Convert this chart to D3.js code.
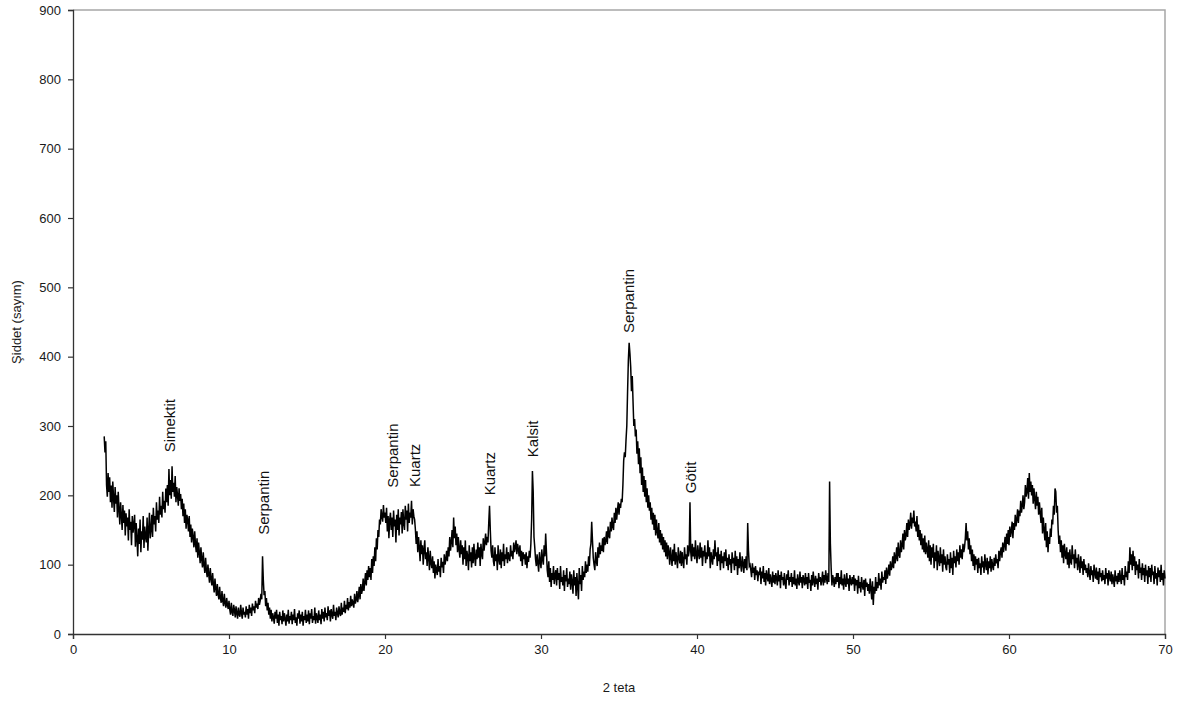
<!DOCTYPE html>
<html>
<head>
<meta charset="utf-8">
<script src="https://cdn.jsdelivr.net/npm/d3@7"></script>
<style>
  html, body { margin: 0; padding: 0; background: #fff; }
  svg { display: block; font-family: "Liberation Sans", Arial, sans-serif; }
</style>
</head>
<body>
<svg id="chart" width="1183" height="702"></svg>
<script>
// XRD scan: one row of intensity counts per degree of 2θ, starting at 2°,
// samples spread evenly across each degree; the last row is the 70° end point.
const firstDegree = 2;
const countsByDegree = [
  /* 2 */ [285, 262, 278, 215, 198, 232, 205, 226, 190, 214, 182, 220, 196, 176, 212, 188, 200, 168, 205, 180],
  /* 3 */ [158, 190, 172, 150, 186, 160, 178, 142, 174, 155, 168, 135, 180, 150, 162, 128, 170, 146, 158, 172],
  /* 4 */ [126, 160, 138, 112, 152, 130, 165, 118, 148, 136, 170, 124, 155, 140, 132, 168, 120, 150, 175, 138],
  /* 5 */ [150, 172, 140, 182, 158, 170, 148, 190, 165, 178, 160, 198, 172, 185, 168, 205, 180, 192, 175, 210],
  /* 6 */ [190, 215, 185, 238, 200, 222, 195, 242, 205, 218, 198, 228, 190, 212, 200, 185, 210, 192, 202, 180],
  /* 7 */ [195, 170, 188, 160, 180, 152, 172, 165, 148, 170, 140, 158, 132, 152, 140, 125, 148, 130, 118, 138],
  /* 8 */ [110, 132, 118, 102, 125, 108, 96, 118, 100, 88, 110, 92, 82, 100, 86, 74, 95, 80, 70, 88],
  /* 9 */ [72, 60, 80, 66, 55, 72, 58, 50, 68, 52, 45, 62, 48, 40, 58, 45, 38, 52, 42, 36],
  /* 10 */ [48, 35, 28, 45, 32, 26, 42, 34, 24, 40, 30, 22, 38, 28, 25, 42, 30, 22, 38, 28],
  /* 11 */ [32, 24, 40, 28, 36, 22, 42, 30, 38, 26, 44, 34, 40, 30, 48, 38, 44, 36, 52, 42],
  /* 12 */ [48, 58, 50, 112, 78, 56, 62, 40, 52, 34, 45, 28, 38, 22, 35, 18, 30, 24, 15, 32],
  /* 13 */ [22, 35, 16, 28, 12, 32, 20, 26, 14, 34, 18, 30, 22, 12, 28, 18, 35, 15, 26, 20],
  /* 14 */ [32, 14, 28, 20, 36, 16, 24, 12, 30, 22, 34, 15, 28, 18, 32, 12, 26, 20, 35, 16],
  /* 15 */ [28, 18, 34, 14, 30, 22, 36, 16, 26, 20, 38, 15, 30, 24, 16, 34, 20, 28, 14, 36],
  /* 16 */ [22, 32, 18, 38, 24, 30, 20, 40, 26, 34, 18, 36, 28, 22, 42, 26, 32, 20, 38, 30],
  /* 17 */ [24, 40, 30, 26, 45, 28, 38, 32, 48, 30, 42, 36, 52, 34, 46, 38, 55, 40, 50, 44],
  /* 18 */ [38, 58, 44, 50, 62, 46, 55, 68, 50, 72, 58, 64, 80, 62, 75, 88, 70, 92, 78, 98],
  /* 19 */ [82, 95, 78, 108, 88, 112, 98, 125, 105, 138, 122, 150, 140, 165, 158, 180, 170, 162, 186, 168],
  /* 20 */ [175, 160, 182, 148, 170, 138, 165, 175, 150, 168, 140, 178, 155, 165, 132, 172, 150, 180, 142, 168],
  /* 21 */ [158, 176, 145, 180, 160, 150, 185, 165, 178, 148, 188, 160, 175, 168, 192, 158, 180, 170, 165, 150],
  /* 22 */ [130, 148, 118, 140, 125, 105, 135, 115, 128, 100, 122, 135, 108, 118, 98, 125, 110, 92, 120, 102],
  /* 23 */ [95, 112, 88, 105, 80, 100, 92, 85, 108, 90, 98, 82, 110, 96, 104, 88, 115, 100, 108, 120],
  /* 24 */ [105, 125, 112, 140, 120, 132, 150, 125, 168, 138, 155, 128, 145, 118, 140, 122, 110, 135, 115, 128],
  /* 25 */ [100, 125, 108, 135, 98, 120, 112, 92, 128, 105, 118, 96, 125, 102, 130, 110, 98, 122, 108, 132],
  /* 26 */ [110, 125, 98, 130, 115, 108, 138, 120, 132, 145, 128, 140, 132, 160, 185, 150, 120, 110, 128, 105],
  /* 27 */ [98, 125, 105, 115, 92, 128, 108, 100, 122, 95, 118, 105, 130, 98, 115, 108, 125, 102, 118, 110],
  /* 28 */ [105, 128, 112, 120, 108, 132, 118, 125, 135, 115, 130, 122, 112, 128, 105, 120, 98, 118, 108, 115],
  /* 29 */ [100, 118, 95, 112, 104, 120, 110, 130, 165, 235, 205, 140, 125, 108, 98, 115, 102, 90, 118, 105],
  /* 30 */ [95, 122, 108, 100, 128, 112, 145, 118, 92, 82, 105, 75, 95, 68, 88, 78, 98, 72, 85, 92],
  /* 31 */ [70, 95, 78, 88, 65, 98, 75, 82, 70, 92, 62, 85, 76, 95, 68, 80, 72, 90, 64, 86],
  /* 32 */ [75, 58, 92, 70, 82, 55, 88, 68, 50, 95, 72, 85, 62, 98, 78, 90, 82, 105, 88, 100],
  /* 33 */ [90, 112, 98, 122, 130, 162, 135, 110, 100, 92, 118, 105, 98, 125, 110, 132, 115, 128, 120, 138],
  /* 34 */ [118, 140, 128, 135, 148, 130, 155, 142, 138, 162, 148, 168, 155, 150, 175, 160, 182, 165, 178, 190],
  /* 35 */ [172, 188, 182, 195, 190, 215, 250, 262, 255, 280, 300, 350, 395, 420, 405, 385, 350, 372, 335, 300],
  /* 36 */ [310, 285, 295, 260, 278, 245, 268, 232, 255, 215, 240, 205, 228, 198, 222, 190, 210, 182, 200, 178],
  /* 37 */ [190, 165, 182, 158, 175, 150, 172, 142, 165, 148, 138, 160, 132, 150, 128, 145, 122, 140, 118, 135],
  /* 38 */ [112, 132, 108, 128, 118, 100, 125, 110, 98, 122, 105, 130, 100, 118, 108, 95, 125, 110, 102, 120],
  /* 39 */ [98, 118, 105, 95, 125, 108, 115, 100, 128, 112, 120, 190, 118, 105, 130, 112, 125, 108, 135, 115],
  /* 40 */ [102, 128, 115, 108, 132, 110, 125, 98, 120, 112, 128, 102, 118, 108, 135, 112, 125, 95, 118, 108],
  /* 41 */ [100, 122, 108, 135, 112, 118, 98, 125, 105, 115, 92, 120, 102, 112, 95, 118, 105, 122, 98, 110],
  /* 42 */ [92, 115, 100, 108, 88, 118, 102, 110, 92, 120, 98, 112, 85, 108, 95, 118, 100, 90, 112, 102],
  /* 43 */ [88, 108, 95, 112, 92, 160, 120, 98, 100, 92, 82, 102, 88, 96, 78, 98, 85, 92, 76, 90],
  /* 44 */ [85, 96, 72, 90, 80, 98, 75, 88, 70, 92, 82, 76, 95, 72, 86, 78, 68, 90, 74, 85],
  /* 45 */ [72, 88, 80, 70, 92, 76, 85, 66, 90, 78, 82, 70, 88, 74, 65, 86, 78, 92, 70, 82],
  /* 46 */ [75, 88, 68, 82, 72, 92, 70, 80, 65, 86, 76, 70, 90, 74, 82, 66, 85, 78, 70, 88],
  /* 47 */ [72, 82, 65, 88, 74, 78, 62, 85, 70, 90, 76, 68, 84, 72, 80, 64, 88, 75, 82, 70],
  /* 48 */ [78, 90, 70, 85, 74, 92, 80, 72, 88, 75, 220, 130, 95, 70, 85, 78, 68, 82, 72, 88],
  /* 49 */ [75, 88, 66, 82, 72, 92, 70, 80, 64, 86, 74, 68, 88, 72, 80, 62, 85, 76, 70, 82],
  /* 50 */ [72, 85, 62, 80, 70, 78, 58, 84, 66, 75, 60, 82, 70, 64, 78, 55, 80, 68, 74, 62],
  /* 51 */ [72, 58, 80, 65, 50, 76, 42, 68, 58, 82, 62, 75, 66, 88, 70, 80, 64, 90, 74, 82],
  /* 52 */ [78, 92, 72, 96, 80, 88, 100, 84, 105, 92, 98, 112, 95, 118, 102, 110, 125, 105, 132, 115],
  /* 53 */ [110, 135, 118, 128, 145, 122, 150, 135, 142, 160, 140, 165, 150, 158, 175, 152, 168, 160, 178, 155],
  /* 54 */ [162, 148, 170, 140, 158, 135, 150, 128, 145, 122, 138, 118, 142, 115, 132, 122, 110, 135, 105, 128],
  /* 55 */ [100, 125, 110, 130, 95, 118, 105, 128, 92, 120, 108, 98, 125, 102, 115, 90, 122, 100, 112, 96],
  /* 56 */ [92, 115, 100, 108, 88, 118, 95, 110, 85, 120, 102, 112, 96, 122, 105, 118, 100, 128, 110, 122],
  /* 57 */ [108, 130, 118, 125, 138, 160, 135, 148, 122, 138, 115, 128, 105, 122, 98, 115, 92, 112, 100, 108],
  /* 58 */ [88, 110, 95, 102, 85, 112, 96, 105, 88, 115, 100, 92, 110, 86, 105, 95, 112, 90, 108, 98],
  /* 59 */ [92, 110, 98, 115, 102, 108, 95, 120, 105, 118, 125, 110, 132, 118, 128, 140, 120, 145, 130, 150],
  /* 60 */ [128, 155, 140, 148, 162, 138, 160, 150, 172, 155, 165, 180, 160, 178, 170, 192, 175, 185, 200, 180],
  /* 61 */ [190, 215, 198, 205, 225, 195, 232, 205, 220, 200, 215, 188, 210, 195, 180, 205, 185, 198, 172, 190],
  /* 62 */ [175, 160, 182, 145, 168, 150, 135, 160, 125, 148, 118, 140, 130, 152, 140, 165, 158, 185, 172, 210],
  /* 63 */ [205, 175, 185, 150, 130, 142, 118, 135, 110, 128, 102, 130, 115, 108, 125, 100, 118, 95, 122, 105],
  /* 64 */ [100, 128, 108, 115, 95, 122, 102, 110, 92, 115, 100, 88, 112, 95, 105, 85, 108, 92, 100, 88],
  /* 65 */ [95, 82, 102, 88, 78, 98, 85, 92, 75, 100, 88, 80, 96, 78, 90, 72, 95, 82, 88, 76],
  /* 66 */ [92, 78, 85, 72, 95, 80, 88, 70, 92, 82, 76, 90, 72, 86, 78, 68, 92, 76, 84, 72],
  /* 67 */ [88, 75, 92, 80, 72, 95, 78, 85, 70, 98, 82, 90, 78, 105, 88, 125, 100, 115, 92, 120],
  /* 68 */ [98, 112, 85, 105, 92, 100, 80, 108, 88, 96, 78, 102, 85, 95, 75, 100, 84, 92, 72, 98],
  /* 69 */ [82, 95, 75, 100, 85, 90, 72, 98, 80, 88, 70, 96, 82, 92, 75, 100, 78, 88, 70, 92],
  /* 70 */ [80]
];

// Phase annotations: name, 2θ position, intensity where the label starts
const phaseNames  = ["Simektit", "Serpantin", "Serpantin", "Kuartz", "Kuartz", "Kalsit", "Serpantin", "Götit"];
const phaseAngles = [6.2, 12.2, 20.5, 21.9, 26.7, 29.5, 35.6, 39.6];
const phaseLevels = [262, 143, 211, 212, 200, 255, 434, 203];

const xTicks = [0, 10, 20, 30, 40, 50, 60, 70];
const yTicks = [0, 100, 200, 300, 400, 500, 600, 700, 800, 900];

const xTitle = "2 teta";
const yTitle = "Şiddet (sayım)";

const margin = { left: 73, right: 18, top: 10, bottom: 68 };
const width = 1183, height = 702;

const svg = d3.select("#chart");

const x = d3.scaleLinear().domain([0, 70]).range([margin.left, width - margin.right]);
const y = d3.scaleLinear().domain([0, 900]).range([height - margin.bottom, margin.top]);

// Flatten rows into (angle, count) samples
const points = countsByDegree.flatMap((row, r) =>
  row.map((c, j) => ({ angle: firstDegree + r + j / row.length, count: c }))
);

// Plot frame: grey top and right edges
svg.append("path")
  .attr("d", `M${x(0)},${y(900)}H${x(70)}V${y(0)}`)
  .attr("fill", "none")
  .attr("stroke", "#a6a6a6")
  .attr("stroke-width", 1.5);

// Diffraction trace
svg.append("path")
  .datum(points)
  .attr("fill", "none")
  .attr("stroke", "#000")
  .attr("stroke-width", 1.5)
  .attr("d", d3.line().x(d => x(d.angle)).y(d => y(d.count)));

// Axes
const xAxis = svg.append("g")
  .attr("transform", `translate(0,${y(0)})`)
  .call(d3.axisBottom(x).tickValues(xTicks).tickSize(5).tickPadding(6).tickFormat(d3.format("d")));
const yAxis = svg.append("g")
  .attr("transform", `translate(${x(0)},0)`)
  .call(d3.axisLeft(y).tickValues(yTicks).tickSize(5).tickPadding(7).tickFormat(d3.format("d")));

[xAxis, yAxis].forEach(g => {
  g.select(".domain").attr("stroke", "#333").attr("stroke-width", 1.3);
  g.selectAll(".tick line").attr("stroke", "#333").attr("stroke-width", 1.2);
  g.selectAll(".tick text")
    .attr("fill", "#1a1a1a")
    .style("font-family", "'Liberation Sans', Arial, sans-serif")
    .style("font-size", "13px");
});

// Axis titles
svg.append("text")
  .attr("x", (x(0) + x(70)) / 2)
  .attr("y", 692)
  .attr("text-anchor", "middle")
  .attr("fill", "#1a1a1a")
  .style("font-size", "13px")
  .text(xTitle);

svg.append("text")
  .attr("transform", `translate(21,${(y(0) + y(900)) / 2}) rotate(-90)`)
  .attr("text-anchor", "middle")
  .attr("fill", "#1a1a1a")
  .style("font-size", "13px")
  .text(yTitle);

// Phase labels, written vertically upward from the peak
svg.append("g")
  .selectAll("text")
  .data(phaseNames.map((n, i) => ({ name: n, angle: phaseAngles[i], level: phaseLevels[i] })))
  .join("text")
  .attr("transform", d => `translate(${x(d.angle)},${y(d.level)}) rotate(-90)`)
  .attr("dy", "0.35em")
  .attr("text-anchor", "start")
  .attr("fill", "#111")
  .style("font-size", "15px")
  .text(d => d.name);
</script>
</body>
</html>
